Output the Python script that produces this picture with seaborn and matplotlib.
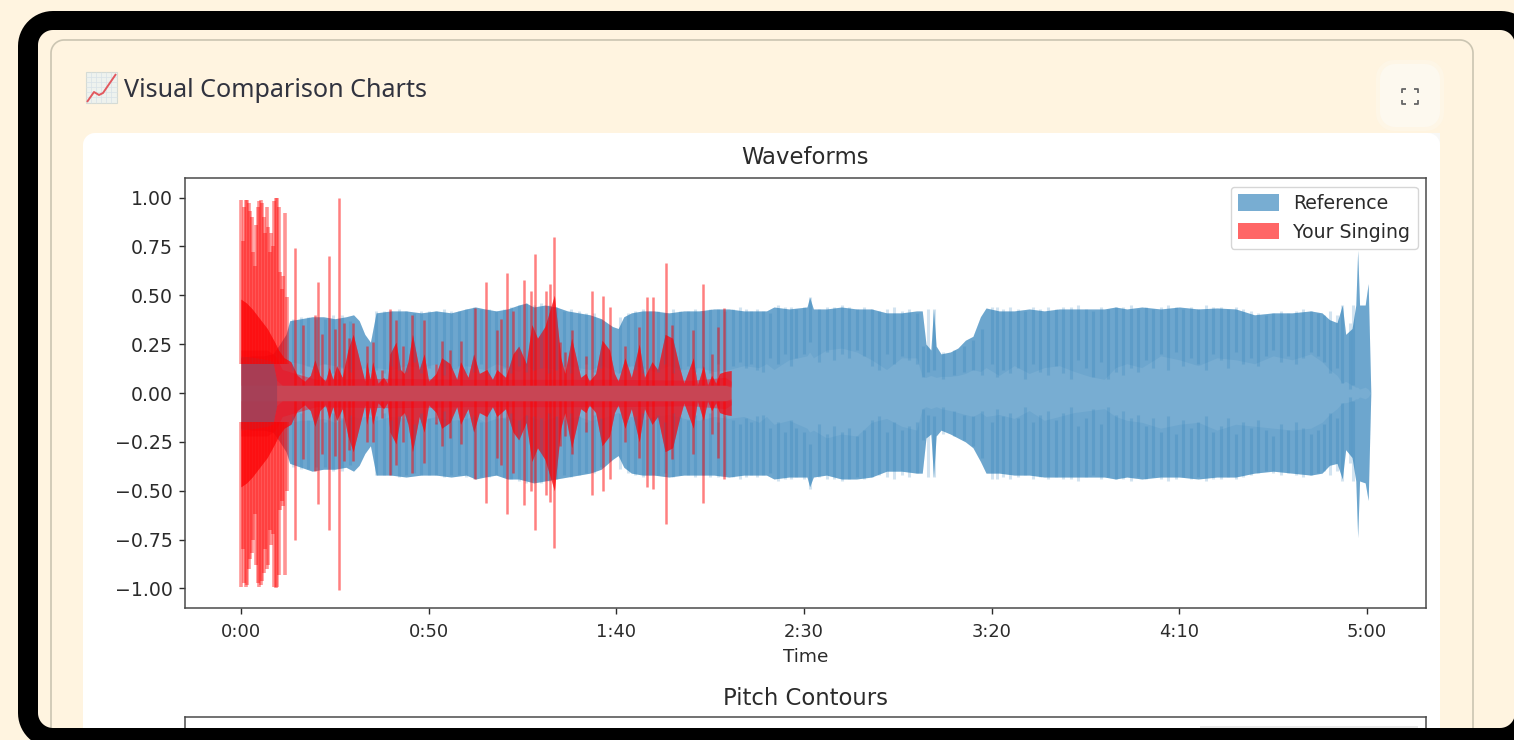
import matplotlib
matplotlib.use("Agg")
import matplotlib.pyplot as plt
from matplotlib.patches import Patch, Polygon, Rectangle, PathPatch
from matplotlib.path import Path
import numpy as np
import pandas as pd
import seaborn as sns

# reference waveform envelope (seconds / amplitude)
ref_t = [0, 3, 6, 8.5, 10, 12, 13, 16, 19, 22,
         25, 28, 30, 31.5, 33, 34.5, 36, 40, 44, 48,
         52, 56, 60, 62.5, 65, 68, 71, 74, 76, 78,
         81, 84, 87, 90, 93, 96, 99, 100.5, 102, 104,
         107, 110, 114, 118, 122, 126, 130, 134, 138, 140,
         142, 146, 150.8, 151.5, 152.5, 156, 160, 164, 168, 172,
         176, 180, 181.5, 182.5, 183.8, 184.5, 185.2, 186.5, 189, 191,
         193, 195, 197, 198.5, 202, 206, 210, 214, 218, 222,
         226, 230, 233, 236, 240, 245, 250, 255, 260, 265,
         270, 275, 280, 285, 288, 290, 292, 293.4, 294.3, 296,
         297, 297.5, 298, 299.5, 300.3, 301]
ref_top = [.18, .19, .19, .2, .24, .30, .37, .38, .39, .39,
           .38, .39, .40, .37, .30, .26, .41, .42, .42, .41,
           .42, .41, .43, .44, .43, .42, .43, .45, .46, .44,
           .45, .44, .42, .41, .40, .38, .34, .33, .39, .41,
           .42, .42, .41, .42, .42, .43, .43, .42, .42, .42,
           .44, .43, .44, .49, .43, .43, .44, .43, .43, .41,
           .41, .42, .42, .25, .22, .43, .24, .20, .21, .23,
           .27, .29, .39, .435, .42, .42, .43, .42, .43, .43,
           .43, .43, .44, .43, .44, .43, .44, .43, .435, .43,
           .40, .41, .41, .42, .41, .375, .36, .45, .30, .33,
           .45, .73, .45, .45, .56, 0]
ref_bot = [-.18, -.19, -.19, -.2, -.24, -.30, -.36, -.38, -.40, -.39,
           -.39, -.38, -.40, -.37, -.31, -.27, -.42, -.42, -.43, -.42,
           -.42, -.43, -.42, -.44, -.43, -.42, -.44, -.44, -.45, -.46,
           -.45, -.44, -.43, -.42, -.41, -.39, -.34, -.32, -.38, -.41,
           -.42, -.42, -.43, -.42, -.42, -.42, -.43, -.42, -.42, -.42,
           -.44, -.43, -.43, -.48, -.43, -.42, -.44, -.44, -.43, -.40,
           -.40, -.41, -.41, -.23, -.21, -.43, -.22, -.19, -.21, -.23,
           -.25, -.28, -.35, -.41, -.41, -.42, -.42, -.43, -.43, -.43,
           -.43, -.43, -.44, -.43, -.44, -.43, -.43, -.44, -.43, -.43,
           -.41, -.40, -.41, -.42, -.41, -.37, -.36, -.44, -.29, -.33,
           -.45, -.74, -.45, -.46, -.55, 0]
ref_in_top = [.17, .18, .18, .18, .18, .17, .16, .15, .13, .15,
              .14, .13, .12, .12, .13, .11, .13, .12, .14, .13,
              .15, .12, .14, .13, .12, .15, .13, .11, .14, .12,
              .13, .12, .14, .13, .12, .14, .12, .10, .12, .14,
              .13, .11, .14, .12, .13, .11, .12, .14, .13, .15,
              .12, .17, .19, .21, .18, .22, .23, .21, .17, .12,
              .18, .18, .085, .08, .09, .085, .08, .085, .085, .09,
              .10, .12, .11, .13, .09, .14, .10, .13, .14, .11,
              .085, .07, .13, .15, .13, .19, .17, .14, .18, .17,
              .15, .19, .17, .20, .16, .12, .09, .05, .06, .04,
              .03, .03, .02, .03, .02, 0]
ref_in_bot = [-.17, -.18, -.18, -.18, -.18, -.17, -.15, -.14, -.14, -.13,
              -.15, -.13, -.12, -.13, -.12, -.12, -.14, -.12, -.13, -.14,
              -.12, -.14, -.13, -.12, -.15, -.13, -.12, -.14, -.11, -.13,
              -.14, -.12, -.13, -.12, -.14, -.13, -.11, -.10, -.13, -.12,
              -.14, -.12, -.11, -.13, -.14, -.12, -.13, -.12, -.15, -.12,
              -.16, -.14, -.18, -.20, -.19, -.23, -.21, -.22, -.15, -.13,
              -.17, -.19, -.08, -.07, -.08, -.075, -.07, -.08, -.09, -.10,
              -.11, -.12, -.10, -.12, -.11, -.13, -.09, -.14, -.12, -.10,
              -.09, -.08, -.12, -.14, -.15, -.18, -.16, -.15, -.19, -.16,
              -.17, -.18, -.19, -.18, -.15, -.11, -.08, -.05, -.05, -.04,
              -.03, -.03, -.02, -.03, -.02, 0]

# dark vertical streaks inside the reference band
streak_t = [14, 16, 18, 20, 22.5, 24.5, 27, 29, 36, 38,
            40, 42, 44, 46, 48, 50, 52, 54, 56, 58,
            60, 62, 64, 66, 68, 70, 72, 74, 76, 78,
            80, 82, 84, 86, 88, 90, 92, 94, 96, 101,
            103, 105, 107, 109, 111, 113, 115, 117, 119, 121,
            123, 125, 127, 129, 131, 133, 134.5, 136, 137.5, 139,
            141, 143, 145, 146.5, 148, 150, 151.5, 154, 156, 158,
            160, 162, 164, 166, 168, 170, 172, 174, 176, 178,
            180, 181.8, 183, 184.5, 187, 190, 192.5, 195, 197.5, 200,
            201.5, 203, 205, 207, 209, 211, 213, 215, 217, 219,
            221, 223, 225, 227, 229, 231, 233, 235, 237, 239,
            241, 243, 245, 247, 249, 251, 253, 255, 257, 259,
            261, 263, 265, 267, 269, 271, 273, 275, 277, 279,
            281, 283, 285, 287, 288.5, 290, 292, 293.4, 295.5, 296.3]
streak_hi = [.38, .39, .39, .38, .38, .40, .40, .37, .42, .42,
             .42, .43, .42, .41, .42, .42, .42, .43, .42, .42,
             .43, .44, .43, .43, .42, .43, .44, .45, .46, .45,
             .46, .45, .44, .42, .43, .42, .41, .41, .38, .39,
             .41, .42, .43, .42, .42, .41, .43, .42, .42, .43,
             .42, .43, .43, .42, .43, .44, .43, .42, .43, .42,
             .41, .45, .44, .44, .43, .44, .49, .43, .44, .44,
             .45, .44, .43, .44, .43, .42, .43, .44, .42, .43,
             .41, .24, .43, .43, .21, .22, .24, .27, .33, .44,
             .44, .43, .44, .43, .42, .44, .43, .44, .43, .44,
             .44, .45, .43, .42, .44, .43, .44, .44, .45, .43,
             .44, .43, .44, .45, .44, .43, .44, .43, .45, .44,
             .44, .43, .44, .43, .42, .41, .40, .41, .42, .41,
             .42, .43, .42, .41, .40, .42, .40, .45, .36, .45]
streak_lo = [.12, .10, .14, .11, .15, .10, .13, .11, .12, .10,
             .14, .12, .11, .16, .10, .13, .15, .09, .12, .14,
             .10, .11, .15, .09, .12, .13, .10, .14, .11, .12,
             .13, .10, .12, .14, .10, .12, .15, .11, .13, .10,
             .14, .12, .10, .13, .11, .15, .10, .12, .14, .11,
             .13, .10, .15, .12, .14, .16, .13, .15, .12, .11,
             .18, .15, .20, .14, .18, .20, .26, .16, .21, .17,
             .20, .18, .22, .19, .14, .12, .20, .15, .19, .17,
             .15, .08, .11, .12, .07, .09, .11, .12, .09, .15,
             .08, .12, .10, .13, .07, .15, .11, .09, .14, .10,
             .07, .17, .13, .08, .16, .07, .11, .09, .13, .11,
             .17, .13, .20, .12, .21, .14, .18, .15, .12, .20,
             .17, .13, .21, .15, .18, .14, .19, .22, .16, .19,
             .15, .18, .21, .19, .16, .10, .13, .05, .02, .04]

# singing: body of the waveform
sing_t = [0, 1.5, 3, 5, 7, 9, 10, 11.5, 13.3, 15,
          17, 18.5, 19.7, 21, 22.5, 23.5, 24.5, 25.5, 27, 28.5,
          29.9, 31.7, 33, 33.5, 34.4, 35.1, 36.5, 38, 39, 39.7,
          41.3, 42.5, 43.5, 44.5, 45.7, 47.5, 48.8, 50, 52, 53.5,
          55.7, 57.5, 58.5, 60.5, 62, 63.5, 65.5, 67, 68.2, 70.5,
          72.5, 74, 76, 77.5, 79, 81, 83.5, 85.2, 86.3, 88.1,
          90.5, 91.9, 92.8, 94.5, 96.2, 98.2, 99.5, 100.5, 102.3, 104,
          106.1, 107.5, 109.5, 111, 113, 115, 116.6, 118, 120.5, 121.6,
          123.2, 124.3, 125.4, 126.5, 127.5, 129, 130.6]
sing_env = [.48, .46, .43, .38, .33, .26, .22, .18, .16, .09,
            .06, .09, .17, .09, .06, .13, .07, .14, .08, .22,
            .30, .16, .06, .16, .07, .16, .05, .08, .05, .20,
            .26, .12, .10, .16, .30, .12, .20, .06, .10, .18,
            .15, .07, .16, .08, .20, .10, .12, .07, .12, .08,
            .20, .24, .15, .35, .28, .34, .50, .18, .10, .28,
            .08, .10, .06, .10, .27, .22, .10, .06, .18, .08,
            .25, .08, .16, .12, .30, .28, .15, .05, .18, .04,
            .14, .04, .09, .05, .10, .11, .115]

# singing: bright rim around the pale core
rim_t = [0, 4, 7, 8.5, 9.5, 11, 20, 40, 60, 80, 100, 120, 129, 130.6]
rim_core = [.19, .18, .17, .16, .065, .04, .04, .04, .04, .04, .04, .04, .04, .03]
rim_out = [.22, .22, .22, .20, .18, .12, .07, .075, .07, .07, .07, .065, .08, .06]

# dense spikes at the very start of the singing take
head_t = [0.1, .5, .9, 1.3, 1.7, 2.1, 2.5, 2.9, 3.3, 3.7,
          4.1, 4.5, 4.9, 5.3, 5.7, 6.1, 6.5, 6.9, 7.3, 7.7,
          8.1, 8.5, 8.9, 9.3, 9.7, 10.1, 10.5, 10.9, 11.3, 11.7, 12.2]
head_up = [.99, .78, .95, .99, .99, .97, .93, .90, .72, .65,
           .86, .95, .98, .99, .97, .90, .82, .95, .85, .72,
           .82, .75, .98, 1.0, 1.0, .95, .62, .53, .60, .92, .49]
head_dn = [-.99, -.80, -.97, -.99, -.98, -.90, -.85, -.82, -.75, -.62,
           -.88, -.97, -.99, -.98, -.96, -.92, -.80, -.90, -.88, -.70,
           -.78, -.72, -.99, -1.0, -.99, -.93, -.60, -.55, -.58, -.93, -.5]

# separate singing peaks
spike_t = [14.4, 16.5, 19.7, 20.6, 21.5, 23.5, 25, 26, 27.5, 28.8,
           29.9, 33.5, 35.1, 37.5, 39.7, 41.3, 43.2, 45.7, 48.8, 52,
           53.5, 55.7, 58.5, 62.3, 65.4, 68.1, 69.2, 70.8, 72.6, 75.4,
           77.4, 78.4, 81.4, 82.3, 83.5, 85, 86.3, 88.1, 91.9, 93.4,
           96.5, 98.3, 102.3, 106.1, 108.1, 109.7, 113.2, 114.8, 120.5, 123.2,
           125.4, 127.2, 128.8]
spike_up = [.74, .35, .40, .57, .30, .70, .33, 1.0, .36, .28,
            .36, .24, .26, .12, .43, .375, .24, .40, .375, .15,
            .265, .22, .265, .435, .57, .32, .38, .615, .42, .58,
            .52, .71, .52, .56, .80, .26, .21, .32, .19, .52,
            .495, .44, .24, .34, .49, .49, .665, .35, .32, .56,
            .20, .34, .435]
spike_dn = [-.75, -.34, -.40, -.57, -.31, -.70, -.32, -1.01, -.35, -.29,
            -.35, -.25, -.25, -.13, -.42, -.37, -.25, -.41, -.36, -.16,
            -.27, -.23, -.26, -.44, -.565, -.33, -.37, -.62, -.41, -.575,
            -.50, -.70, -.52, -.56, -.795, -.27, -.22, -.31, -.20, -.52,
            -.50, -.44, -.25, -.33, -.48, -.49, -.67, -.34, -.31, -.565,
            -.21, -.33, -.44]

x_ticks = [0, 50, 100, 150, 200, 250, 300]
x_labels = ["0:00", "0:50", "1:40", "2:30", "3:20", "4:10", "5:00"]
y_ticks = [-1.0, -.75, -.5, -.25, 0, .25, .5, .75, 1.0]
series_names = ["Reference", "Your Singing"]

W, H = 1514, 740
CREAM = "#fff4e0"
BLUE = "#1f77b4"
RED = "#ff0000"
INK = "#2b2b2b"


def box(px0, py0, px1, py1):
    """Axes rectangle from pixel edges (y counted from the top)."""
    return [px0 / W, 1 - py1 / H, (px1 - px0) / W, (py1 - py0) / H]


def rounded_outline(x0, y0, x1, y1, r):
    """Closed polygon of a rounded rectangle."""
    a = np.linspace(0, np.pi / 2, 16)
    pts = []
    for cx, cy, start in [(x1 - r, y0 + r, -np.pi / 2), (x1 - r, y1 - r, 0),
                          (x0 + r, y1 - r, np.pi / 2), (x0 + r, y0 + r, np.pi)]:
        pts.append(np.column_stack([cx + r * np.cos(a + start), cy + r * np.sin(a + start)]))
    return np.vstack(pts)


def draw_vertical_lines(axis, xs, ys_a, ys_b, **kw):
    long_df = pd.DataFrame({
        "t": list(xs) * 2,
        "amp": list(ys_a) + list(ys_b),
        "unit": list(range(len(xs))) * 2,
    })
    sns.lineplot(data=long_df, x="t", y="amp", units="unit", estimator=None, sort=False,
                 ax=axis, legend=False, **kw)


sns.set_theme(style="white", rc={"font.family": "DejaVu Sans", "lines.solid_capstyle": "butt"})
fig = plt.figure(figsize=(W / 100, H / 100), dpi=100, facecolor=CREAM)

# page chrome behind the plots
bg = fig.add_axes([0, 0, 1, 1], zorder=0)
bg.set_xlim(0, W)
bg.set_ylim(H, 0)
bg.axis("off")
bg.add_patch(Polygon(rounded_outline(51, 40, 1473, 800, 13), closed=True,
                     fc=CREAM, ec="#cbc5b2", lw=1.2))
bg.add_patch(Rectangle((1375, 133), 65, 12, fc="#f8f8f6", ec="none"))
bg.add_patch(Polygon(rounded_outline(83, 133, 1440, 830, 12), closed=True, fc="white", ec="none"))
bg.add_patch(Polygon(rounded_outline(1376, 60, 1444, 131, 18), closed=True, fc="#fef6e6", ec="none"))
bg.add_patch(Polygon(rounded_outline(1380, 64, 1440, 127, 15), closed=True, fc="#fdf9ef", ec="none"))
for cx, cy, dx, dy in [(1402, 89, 1, 1), (1418, 89, -1, 1), (1402, 104, 1, -1), (1418, 104, -1, -1)]:
    bg.plot([cx + 4 * dx, cx, cx], [cy, cy, cy + 4 * dy], color="#666666", lw=1.3)

# chart emoji of the heading
bg.add_patch(Rectangle((86, 72), 31, 31, fc="#eef2ee", ec="#d5dbd5", lw=0.8))
for step in range(1, 6):
    bg.plot([86 + step * 5, 86 + step * 5], [72, 103], color="#d8e2e8", lw=0.5)
    bg.plot([86, 117], [72 + step * 5, 72 + step * 5], color="#d8e2e8", lw=0.5)
bg.plot([87, 94, 99, 103, 116], [102, 92, 95, 93, 74], color="#e2585e", lw=1.4)
bg.text(124, 90.5, "Visual Comparison Charts", fontsize=18.1, family="Noto Sans",
        color="#31333f", va="center", ha="left")

# waveform panel
ax = fig.add_axes(box(185, 178, 1426, 608), zorder=1)
ax.fill_between(ref_t, ref_bot, ref_top, color=BLUE, alpha=0.6, lw=0)
ax.fill_between(ref_t, ref_in_top, ref_top, color=BLUE, alpha=0.12, lw=0)
ax.fill_between(ref_t, ref_bot, ref_in_bot, color=BLUE, alpha=0.12, lw=0)
draw_vertical_lines(ax, streak_t, streak_lo, streak_hi, color=BLUE, alpha=0.2, lw=2.2)
draw_vertical_lines(ax, streak_t, [-v for v in streak_lo], [-v for v in streak_hi],
                    color=BLUE, alpha=0.2, lw=2.2)

# singing layers
core_low = [.04] * len(sing_t)
ax.fill_between(sing_t, [-v for v in sing_env], sing_env, color=RED, alpha=0.6, lw=0)
ax.fill_between(sing_t, core_low, sing_env, color="#f01020", alpha=0.4, lw=0)
ax.fill_between(sing_t, [-v for v in sing_env], [-v for v in core_low], color="#f01020", alpha=0.4, lw=0)
ax.fill_between(rim_t, rim_core, rim_out, color="#f01020", alpha=0.45, lw=0)
ax.fill_between(rim_t, [-v for v in rim_out], [-v for v in rim_core], color="#f01020", alpha=0.45, lw=0)
draw_vertical_lines(ax, head_t, head_up, [.15] * len(head_t), color=RED, alpha=0.42, lw=2.6)
draw_vertical_lines(ax, head_t, head_dn, [-.15] * len(head_t), color=RED, alpha=0.42, lw=2.6)
draw_vertical_lines(ax, spike_t, spike_up, [.04] * len(spike_t), color=RED, alpha=0.5, lw=1.8)
draw_vertical_lines(ax, spike_t, spike_dn, [-.04] * len(spike_t), color=RED, alpha=0.5, lw=1.8)

# muddy overlap at the start, where both takes sit on each other
ax.fill_between(rim_t[:5], [-v for v in rim_core[:5]], rim_core[:5], color="#a04058", alpha=0.85, lw=0)

ax.set_xlim(-14.9, 315.7)
ax.set_ylim(-1.1, 1.1)
ax.set_xticks(x_ticks, x_labels)
ax.set_yticks(y_ticks, [f"{v:.2f}".replace("-", "\u2212") for v in y_ticks])
ax.tick_params(axis="x", length=4.5, width=1, labelsize=12.9, colors=INK, bottom=True, pad=6.5)
ax.tick_params(axis="y", length=4.5, width=1, labelsize=13.6, colors=INK, left=True, pad=4)
ax.set_xlabel("Time", fontsize=13.3, color=INK, labelpad=5)
ax.set_ylabel("")
ax.set_title("Waveforms", fontsize=16.4, color=INK, pad=10)
for spine in ax.spines.values():
    spine.set_color("#4a4a4a")
    spine.set_linewidth(1.1)
ax.legend(handles=[Patch(color=BLUE, alpha=0.6, lw=0), Patch(color=RED, alpha=0.6, lw=0)],
          labels=series_names, loc="upper right", fontsize=13.6, frameon=True,
          handlelength=2.15, handleheight=0.95, labelspacing=0.5, labelcolor=INK,
          borderaxespad=0.45, handletextpad=0.75, borderpad=0.4)

# next panel, cut off by the bottom of the screen
ax2 = fig.add_axes(box(185, 717, 1426, 1100), zorder=1)
ax2.set_xticks([])
ax2.set_yticks([])
ax2.set_title("Pitch Contours", fontsize=16.4, color=INK, pad=8.5)
for spine in ax2.spines.values():
    spine.set_color("#4a4a4a")
    spine.set_linewidth(1.1)

# black device frame on top of everything
top = fig.add_axes([0, 0, 1, 1], zorder=5)
top.set_xlim(0, W)
top.set_ylim(H, 0)
top.axis("off")
top.add_patch(Rectangle((1200, 726), 218, 2, fc="#e8e8e8", ec="none"))
outer = rounded_outline(18, 11, 1536, 748, 35)
inner = rounded_outline(38, 30, 1515, 728, 15)[::-1]
verts = np.vstack([outer, outer[:1], inner, inner[:1]])
codes = ([Path.MOVETO] + [Path.LINETO] * (len(outer) - 1) + [Path.CLOSEPOLY]
         + [Path.MOVETO] + [Path.LINETO] * (len(inner) - 1) + [Path.CLOSEPOLY])
top.add_patch(PathPatch(Path(verts, codes), fc="black", ec="none"))

fig.savefig("out.png", dpi=100, facecolor=CREAM)
